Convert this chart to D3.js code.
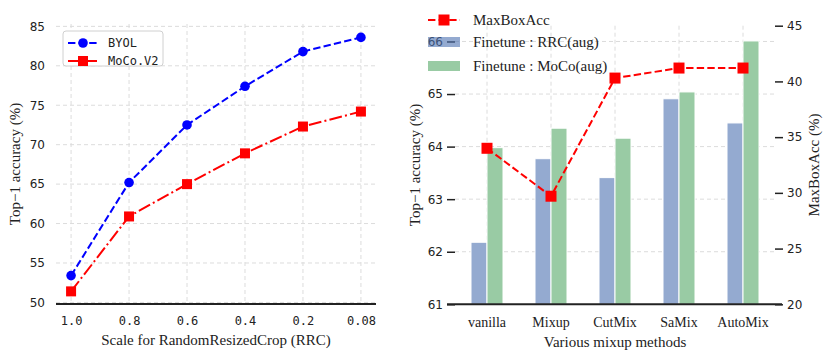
<!DOCTYPE html>
<html>
<head>
<meta charset="utf-8">
<script src="https://cdn.jsdelivr.net/npm/d3@7"></script>
<style>
    body { margin: 0; background: #fff; }
    svg text { fill: #222; }
    .tick-num { font-family: "DejaVu Sans", sans-serif; font-size: 12px; }
    .mono { font-family: "DejaVu Sans Mono", monospace; font-size: 12px; }
    .serif { font-family: "Liberation Serif", "Times New Roman", serif; }
    .grid { stroke: #dcdcdc; stroke-width: 1; stroke-dasharray: 4,3; fill: none; }
</style>
</head>
<body>
<div id="chart"></div>
<script>
// left panel: RRC scale vs top-1 accuracy
const scaleLabels = ["1.0", "0.8", "0.6", "0.4", "0.2", "0.08"];
const byolAcc = [53.4, 65.2, 72.5, 77.4, 81.8, 83.6];
const mocoV2Acc = [51.4, 60.9, 65.0, 68.9, 72.3, 74.2];
const leftYTicks = [50, 55, 60, 65, 70, 75, 80, 85];

// right panel: mixup methods
const methods = ["vanilla", "Mixup", "CutMix", "SaMix", "AutoMix"];
const rrcAugAcc = [62.18, 63.77, 63.41, 64.91, 64.45];
const mocoAugAcc = [63.98, 64.35, 64.16, 65.04, 66.01];
const maxBoxAcc = [34.0, 29.7, 40.3, 41.2, 41.2];
const accTicks = [61, 62, 63, 64, 65, 66];
const boxTicks = [20, 25, 30, 35, 40, 45];

const blueBar = "#94aad0";
const greenBar = "#99cba4";

const svg = d3.select("#chart").append("svg")
    .attr("width", 831)
    .attr("height", 361);

// ---------------- left chart ----------------
const L = { left: 56, right: 376, top: 24, bottom: 304 };

const xL = d3.scalePoint().domain(scaleLabels).range([L.left, L.right]).padding(0.26);
const yL = d3.scaleLinear().domain([49.8, 85.3]).range([L.bottom, L.top]);

const gL = svg.append("g");

// grid
gL.selectAll(".hgrid").data(leftYTicks).enter().append("line")
    .attr("class", "grid")
    .attr("x1", L.left).attr("x2", L.right)
    .attr("y1", d => yL(d)).attr("y2", d => yL(d));
gL.selectAll(".vgrid").data(scaleLabels).enter().append("line")
    .attr("class", "grid")
    .attr("x1", d => xL(d)).attr("x2", d => xL(d))
    .attr("y1", L.top).attr("y2", L.bottom);

// axes (no tick marks, just labels)
const yAxisL = gL.append("g")
    .attr("transform", `translate(${L.left},0)`)
    .call(d3.axisLeft(yL).tickValues(leftYTicks).tickSize(0).tickPadding(11));
yAxisL.select(".domain").remove();
yAxisL.selectAll("text").attr("class", "tick-num").attr("fill", "#222");

const xAxisL = gL.append("g")
    .attr("transform", `translate(0,${L.bottom})`)
    .call(d3.axisBottom(xL).tickSize(0).tickPadding(12));
xAxisL.select(".domain").remove();
xAxisL.selectAll("text").attr("class", "mono").attr("fill", "#222");

gL.append("line")
    .attr("x1", L.left).attr("x2", L.right)
    .attr("y1", L.bottom).attr("y2", L.bottom)
    .attr("stroke", "#222").attr("stroke-width", 2);

// lines
const lineL = d3.line()
    .x((d, i) => xL(scaleLabels[i]))
    .y(d => yL(d));

gL.append("path").datum(mocoV2Acc)
    .attr("d", lineL)
    .attr("fill", "none").attr("stroke", "#ff0000").attr("stroke-width", 2)
    .attr("stroke-dasharray", "12.8,3.2,2,3.2");
gL.selectAll(".moco-pt").data(mocoV2Acc).enter().append("rect")
    .attr("x", (d, i) => xL(scaleLabels[i]) - 5)
    .attr("y", d => yL(d) - 5)
    .attr("width", 10).attr("height", 10)
    .attr("fill", "#ff0000");

gL.append("path").datum(byolAcc)
    .attr("d", lineL)
    .attr("fill", "none").attr("stroke", "#0000ff").attr("stroke-width", 2)
    .attr("stroke-dasharray", "7.4,3.2");
gL.selectAll(".byol-pt").data(byolAcc).enter().append("circle")
    .attr("cx", (d, i) => xL(scaleLabels[i]))
    .attr("cy", d => yL(d))
    .attr("r", 4.8)
    .attr("fill", "#0000ff");

// legend
const legL = gL.append("g").attr("transform", "translate(63,31)");
legL.append("rect")
    .attr("width", 100).attr("height", 35).attr("rx", 3)
    .attr("fill", "#fff").attr("stroke", "#d0d0d0");
legL.append("line").attr("x1", 5).attr("x2", 34).attr("y1", 12).attr("y2", 12)
    .attr("stroke", "#0000ff").attr("stroke-width", 2).attr("stroke-dasharray", "7.4,3.2");
legL.append("circle").attr("cx", 20).attr("cy", 12).attr("r", 4.8).attr("fill", "#0000ff");
legL.append("text").attr("class", "mono").attr("x", 45).attr("y", 16).text("BYOL");
legL.append("line").attr("x1", 5).attr("x2", 34).attr("y1", 30).attr("y2", 30)
    .attr("stroke", "#ff0000").attr("stroke-width", 2);
legL.append("rect").attr("x", 15).attr("y", 25).attr("width", 10).attr("height", 10).attr("fill", "#ff0000");
legL.append("text").attr("class", "mono").attr("x", 45).attr("y", 34).text("MoCo.V2");

// axis titles
gL.append("text").attr("class", "serif")
    .attr("transform", `translate(15,${(L.top + L.bottom) / 2}) rotate(-90)`)
    .attr("text-anchor", "middle").attr("dominant-baseline", "central")
    .style("font-size", "15px")
    .text("Top−1 accuracy (%)");
gL.append("text").attr("class", "serif")
    .attr("x", (L.left + L.right) / 2).attr("y", 345)
    .attr("text-anchor", "middle")
    .style("font-size", "15px")
    .text("Scale for RandomResizedCrop (RRC)");

// ---------------- right chart ----------------
const R = { left: 455, right: 775, top: 25.7, bottom: 304.3 };

const x0 = d3.scaleBand().domain(methods).range([R.left, R.right]);
const x1 = d3.scaleBand().domain(["rrc", "moco"]).range([0, 32]);
const yAcc = d3.scaleLinear().domain([61, 66.3]).range([R.bottom, R.top]);
const yBox = d3.scaleLinear().domain([20, 45]).range([R.bottom, R.top]);

const gR = svg.append("g");

gR.selectAll(".hgrid").data(accTicks.slice(1)).enter().append("line")
    .attr("class", "grid")
    .attr("x1", R.left).attr("x2", R.right)
    .attr("y1", d => yAcc(d)).attr("y2", d => yAcc(d));
gR.selectAll(".vgrid").data(methods).enter().append("line")
    .attr("class", "grid")
    .attr("x1", d => x0(d) + x0.bandwidth() / 2).attr("x2", d => x0(d) + x0.bandwidth() / 2)
    .attr("y1", R.top).attr("y2", R.bottom);

// bars
const barData = [];
methods.forEach((m, i) => {
    barData.push({ method: m, key: "rrc", value: rrcAugAcc[i] });
    barData.push({ method: m, key: "moco", value: mocoAugAcc[i] });
});
gR.selectAll(".bar").data(barData).enter().append("rect")
    .attr("x", d => x0(d.method) + x0.bandwidth() / 2 - 16 + x1(d.key))
    .attr("y", d => yAcc(d.value))
    .attr("width", x1.bandwidth())
    .attr("height", d => yAcc(61) - yAcc(d.value))
    .attr("fill", d => d.key === "rrc" ? blueBar : greenBar)
    .attr("stroke", "#fff").attr("stroke-width", 1);

// left axis
const yAxisR = gR.append("g")
    .attr("transform", `translate(${R.left},0)`)
    .call(d3.axisLeft(yAcc).tickValues(accTicks).tickFormat(d3.format("d")).tickSize(8).tickPadding(4));
yAxisR.select(".domain").remove();
yAxisR.selectAll("line").attr("stroke", "#222").attr("stroke-width", 1.5);
yAxisR.selectAll("text").attr("class", "tick-num").attr("fill", "#222");

// right axis
const yAxisBox = gR.append("g")
    .attr("transform", `translate(${R.right},0)`)
    .call(d3.axisRight(yBox).tickValues(boxTicks).tickFormat(d3.format("d")).tickSize(8).tickPadding(4));
yAxisBox.select(".domain").remove();
yAxisBox.selectAll("line").attr("stroke", "#222").attr("stroke-width", 1.5);
yAxisBox.selectAll("text").attr("class", "tick-num").attr("fill", "#222");

// x axis
const xAxisR = gR.append("g")
    .attr("transform", `translate(0,${R.bottom})`)
    .call(d3.axisBottom(x0).tickSize(0).tickPadding(13));
xAxisR.select(".domain").remove();
xAxisR.selectAll("text").attr("class", "serif").style("font-size", "14px").attr("fill", "#222");

gR.append("line")
    .attr("x1", R.left - 8).attr("x2", R.right + 7)
    .attr("y1", R.bottom).attr("y2", R.bottom)
    .attr("stroke", "#222").attr("stroke-width", 2);

// MaxBoxAcc line
const lineBox = d3.line()
    .x((d, i) => x0(methods[i]) + x0.bandwidth() / 2)
    .y(d => yBox(d));
gR.append("path").datum(maxBoxAcc)
    .attr("d", lineBox)
    .attr("fill", "none").attr("stroke", "#ff0000").attr("stroke-width", 2)
    .attr("stroke-dasharray", "7.4,3.2");
gR.selectAll(".box-pt").data(maxBoxAcc).enter().append("rect")
    .attr("x", (d, i) => x0(methods[i]) + x0.bandwidth() / 2 - 5.5)
    .attr("y", d => yBox(d) - 5.5)
    .attr("width", 11).attr("height", 11)
    .attr("fill", "#ff0000");

// legend (no frame, translucent patches)
const legR = gR.append("g").attr("transform", "translate(428,0)");
legR.append("line").attr("x1", 0).attr("x2", 32).attr("y1", 20).attr("y2", 20)
    .attr("stroke", "#ff0000").attr("stroke-width", 2).attr("stroke-dasharray", "7.4,3.2");
legR.append("rect").attr("x", 10.5).attr("y", 14.5).attr("width", 11).attr("height", 11).attr("fill", "#ff0000");
legR.append("rect").attr("x", 0).attr("y", 37).attr("width", 32).attr("height", 10)
    .attr("fill", "#4c72b0").attr("fill-opacity", 0.6);
legR.append("rect").attr("x", 0).attr("y", 61).attr("width", 32).attr("height", 10)
    .attr("fill", "#55a868").attr("fill-opacity", 0.6);
const legLabels = ["MaxBoxAcc", "Finetune : RRC(aug)", "Finetune : MoCo(aug)"];
legR.selectAll(".leg-text").data(legLabels).enter().append("text")
    .attr("class", "serif")
    .attr("x", 45)
    .attr("y", (d, i) => [25, 47, 71][i])
    .style("font-size", "15px")
    .text(d => d);

// axis titles
gR.append("text").attr("class", "serif")
    .attr("transform", `translate(415,${(R.top + R.bottom) / 2}) rotate(-90)`)
    .attr("text-anchor", "middle").attr("dominant-baseline", "central")
    .style("font-size", "15px")
    .text("Top−1 accuracy (%)");
gR.append("text").attr("class", "serif")
    .attr("transform", `translate(814,${(R.top + R.bottom) / 2}) rotate(-90)`)
    .attr("text-anchor", "middle").attr("dominant-baseline", "central")
    .style("font-size", "15px")
    .text("MaxBoxAcc (%)");
gR.append("text").attr("class", "serif")
    .attr("x", (R.left + R.right) / 2).attr("y", 347)
    .attr("text-anchor", "middle")
    .style("font-size", "15px")
    .text("Various mixup methods");
</script>
</body>
</html>
